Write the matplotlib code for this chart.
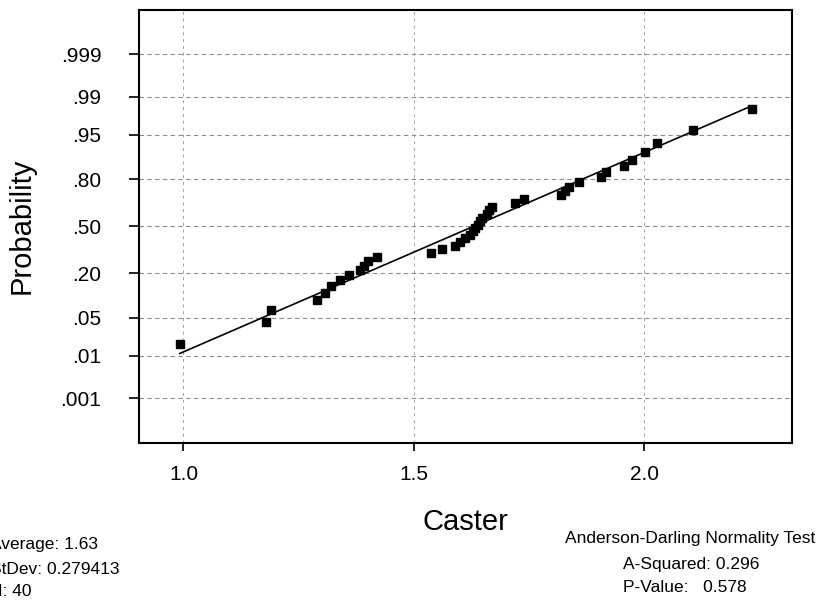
import matplotlib
matplotlib.use('Agg')
import matplotlib.pyplot as plt
from statistics import NormalDist

caster = [0.992, 1.180, 1.191, 1.290, 1.307, 1.321, 1.339, 1.359, 1.383, 1.392,
          1.400, 1.421, 1.538, 1.561, 1.589, 1.600, 1.611, 1.621, 1.628, 1.632,
          1.639, 1.643, 1.648, 1.658, 1.663, 1.669, 1.719, 1.739, 1.820, 1.828,
          1.838, 1.858, 1.907, 1.918, 1.956, 1.974, 2.001, 2.027, 2.106, 2.234]

prob_ticks = [0.001, 0.01, 0.05, 0.20, 0.50, 0.80, 0.95, 0.99, 0.999]
prob_labels = ['.001', '.01', '.05', '.20', '.50', '.80', '.95', '.99', '.999']
x_ticks = [1.0, 1.5, 2.0]
x_labels = ['1.0', '1.5', '2.0']

average = 1.63
stdev = 0.279413
n = 40
a_squared = 0.296
p_value = 0.578

plt.rcParams['font.family'] = ['Liberation Sans', 'DejaVu Sans']

nd = NormalDist()
# median rank plotting positions on a normal score scale
scores = [nd.inv_cdf((i - 0.3) / (n + 0.4)) for i in range(1, n + 1)]
line_x = [min(caster), max(caster)]
line_y = [(v - average) / stdev for v in line_x]

W, H = 816, 607
fig = plt.figure(figsize=(W / 100, H / 100), dpi=100)
ax = fig.add_axes([139 / W, 1 - 443 / H, 653 / W, 433.5 / H])

ax.grid(axis='y', linestyle=(0, (4, 3)), color='#8a8a8a', linewidth=0.8)
ax.grid(axis='x', linestyle=(0, (3, 4)), color='#a0a0a0', linewidth=0.7)
ax.set_axisbelow(True)

ax.plot(line_x, line_y, color='black', linewidth=1.2)
ax.plot(caster, scores, 's', color='black', markersize=5.5)

ax.set_xlim(0.9035, 2.321)
ax.set_ylim(-3.89, 3.89)
ax.set_yticks([nd.inv_cdf(p) for p in prob_ticks])
ax.set_yticklabels(prob_labels, fontsize=15)
ax.set_xticks(x_ticks)
ax.set_xticklabels(x_labels, fontsize=15)
ax.tick_params(axis='y', direction='out', length=7, width=1.2, pad=20)
ax.tick_params(axis='x', direction='out', length=6, width=1.2, pad=10)
for s in ax.spines.values():
    s.set_linewidth(1.5)

ax.set_ylabel('Probability', fontsize=21)
ax.yaxis.set_label_coords(-0.158, 0.5)
ax.set_xlabel('Caster', fontsize=21)
ax.xaxis.set_label_coords(0.5, -0.15)

# summary text (left block is cut by the image edge)
fs = 12.5
x0 = -10 / W
fig.text(x0, 1 - 545 / H, 'Average: %.2f' % average, fontsize=fs, va='center')
fig.text(x0, 1 - 569 / H, 'StDev: %g' % stdev, fontsize=fs, va='center')
fig.text(x0, 1 - 592 / H, 'N: %d' % n, fontsize=fs, va='center')

fig.text(815 / W, 1 - 539 / H, 'Anderson-Darling Normality Test', fontsize=fs,
         va='center', ha='right')
fig.text(623 / W, 1 - 564 / H, 'A-Squared: %.3f' % a_squared, fontsize=fs, va='center')
fig.text(623 / W, 1 - 588 / H, 'P-Value:   %.3f' % p_value, fontsize=fs, va='center')

fig.savefig('out.png', dpi=100)
